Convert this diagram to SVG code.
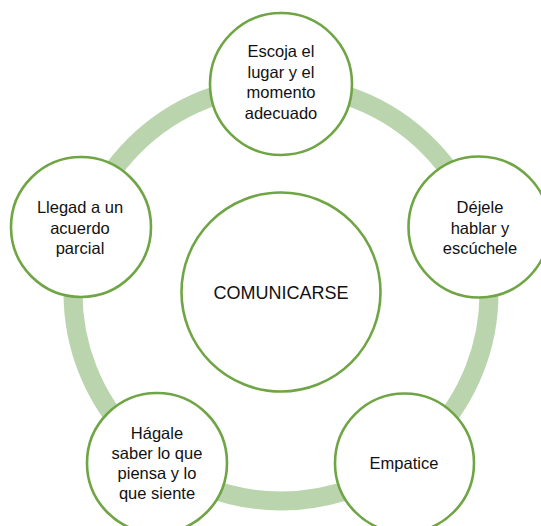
<svg xmlns="http://www.w3.org/2000/svg" width="541" height="526" viewBox="0 0 541 526">
<style>
.ring{fill:none;stroke:#BAD5AD;stroke-width:19}
.node{fill:#FFFFFF;stroke:#6FA544;stroke-width:2.6}
.t{font-family:"Liberation Sans",Arial,sans-serif;font-size:16.5px;fill:#111;text-anchor:middle}
.c{font-size:18px}
</style>
<rect width="541" height="526" fill="#FFFFFF"/>
<g id="connectors">
<circle class="ring" cx="281" cy="293" r="208"/>
</g>
<g id="center">
<circle class="node" cx="281" cy="292" r="99.5"/>
<text class="t c" x="281" y="299">COMUNICARSE</text>
</g>
<g id="n1">
<circle class="node" cx="281" cy="84" r="71"/>
<text class="t" x="281" y="57">Escoja el</text>
<text class="t" x="281" y="77.5">lugar y el</text>
<text class="t" x="281" y="98">momento</text>
<text class="t" x="281" y="118.5">adecuado</text>
</g>
<g id="n2">
<circle class="node" cx="479" cy="227" r="70.5"/>
<text class="t" x="480" y="213">Déjele</text>
<text class="t" x="480" y="233.5">hablar y</text>
<text class="t" x="480" y="254">escúchele</text>
</g>
<g id="n3">
<circle class="node" cx="404.5" cy="463" r="69.5"/>
<text class="t" x="404" y="468.5">Empatice</text>
</g>
<g id="n4">
<circle class="node" cx="157" cy="463" r="70"/>
<text class="t" x="157" y="439">Hágale</text>
<text class="t" x="157" y="459">saber lo que</text>
<text class="t" x="157" y="479">piensa y lo</text>
<text class="t" x="157" y="499">que siente</text>
</g>
<g id="n5">
<circle class="node" cx="81" cy="227" r="70"/>
<text class="t" x="80" y="213">Llegad a un</text>
<text class="t" x="80" y="233.5">acuerdo</text>
<text class="t" x="80" y="254">parcial</text>
</g>
</svg>
